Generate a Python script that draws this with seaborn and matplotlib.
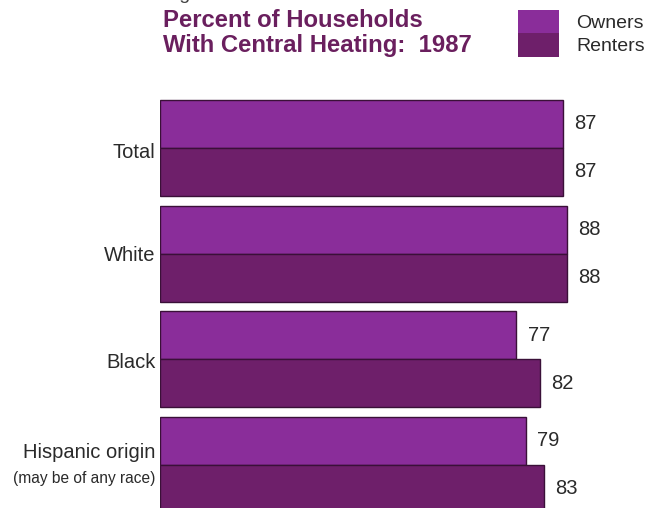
import matplotlib
matplotlib.use("Agg")
import matplotlib.pyplot as plt
from matplotlib.patches import Rectangle
import seaborn as sns
import pandas as pd

# Data
groups = ["Total", "White", "Black", "Hispanic origin"]
owners = [87, 88, 77, 79]
renters = [87, 88, 82, 83]
tenure = ["Owners", "Renters"]

owner_color = "#8a2d9a"
renter_color = "#6e1f6a"
edge_color = "#3a1038"
title_color = "#6a1f5e"
text_color = "#2a2a2a"

sns.set_theme(style="white")
plt.rcParams["font.family"] = ["Liberation Sans", "DejaVu Sans"]

df = pd.DataFrame({
    "group": groups * 2,
    "percent": owners + renters,
    "tenure": [tenure[0]] * len(groups) + [tenure[1]] * len(groups),
})

W, H = 647, 508
fig = plt.figure(figsize=(W / 100, H / 100), dpi=100)
ax = fig.add_axes([160 / W, 0, 487 / W, 1])

sns.barplot(data=df, y="group", x="percent", hue="tenure", orient="h",
            palette=[owner_color, renter_color], saturation=1, width=0.908,
            edgecolor=edge_color, linewidth=1.0, legend=False, ax=ax)

ax.set_xlim(0, 105.2)
ax.set_ylim(3.407, -1.40)
ax.set_xlabel("")
ax.set_ylabel("")
ax.set_xticks([])
ax.set_yticks([])
for s in ax.spines.values():
    s.set_visible(False)

for cont in ax.containers:
    ax.bar_label(cont, fmt="%d", padding=8, fontsize=14.5, color=text_color)

# Category labels at left of bars
label_offsets = [0.04, 0.02, 0.03, -0.12]
for i, g in enumerate(groups):
    ax.text(-1.0, i + label_offsets[i], g, ha="right", va="center",
            fontsize=14.5, color=text_color, clip_on=False)
ax.text(-1.0, 3 + 0.13, "(may be of any race)", ha="right", va="center",
        fontsize=11.2, color=text_color, clip_on=False)

# Header
fig.text(163 / W, 1 + 1 / H, "Figure 6.", ha="left", va="baseline",
         fontsize=14, color="#444444")
fig.text(163 / W, 1 - 27 / H, "Percent of Households", ha="left",
         va="baseline", fontsize=17.2, fontweight="bold", color=title_color)
fig.text(163 / W, 1 - 52 / H, "With Central Heating:  1987", ha="left",
         va="baseline", fontsize=17.2, fontweight="bold", color=title_color)

# Legend swatches
fig.patches.append(Rectangle((518 / W, 1 - 33 / H), 41 / W, 23 / H,
                             transform=fig.transFigure, facecolor=owner_color,
                             edgecolor="none"))
fig.patches.append(Rectangle((518 / W, 1 - 57 / H), 41 / W, 24 / H,
                             transform=fig.transFigure, facecolor=renter_color,
                             edgecolor="none"))
fig.text(576 / W, 1 - 23 / H, "Owners", ha="left", va="center",
         fontsize=14, color=text_color)
fig.text(576 / W, 1 - 46 / H, "Renters", ha="left", va="center",
         fontsize=14, color=text_color)

fig.savefig("out.png", dpi=100)
